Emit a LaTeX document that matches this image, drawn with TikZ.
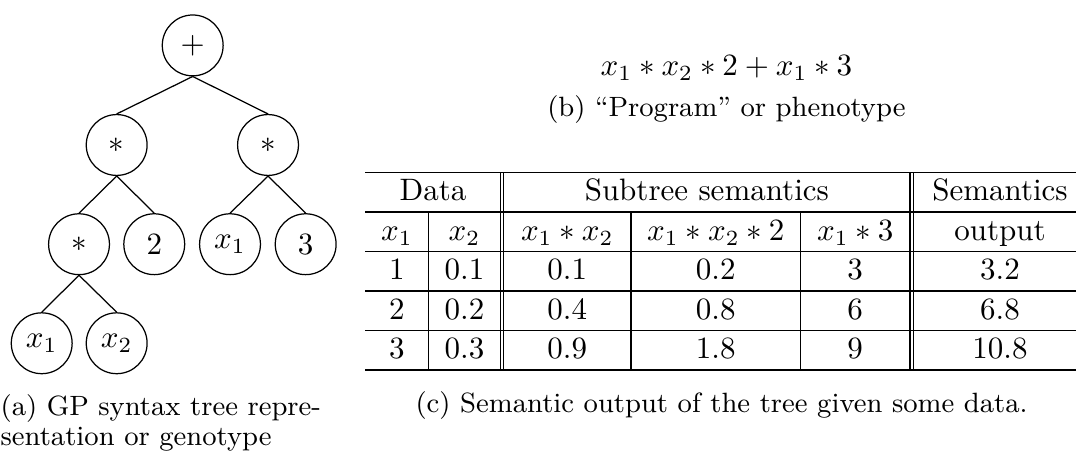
\documentclass[tikz,border=0pt]{standalone}

\begin{document}
\begin{tikzpicture}[
    op/.style={circle, draw, minimum size=0.69cm, inner sep=0pt},
    subcap/.style={font=\small, inner sep=0pt},
    tcell/.style={anchor=base, inner sep=0pt}
  ]
  \useasboundingbox (0,0) rectangle (12.2,5.147);

  % Boom (a)
  \node[op] (plus) at (2.185,4.632) {$+$};
  \node[op] (mulL) at (1.323,3.503) {$*$};
  \node[op] (mulR) at (3.039,3.503) {$*$};
  \node[op] (mulLL) at (0.896,2.378) {$*$};
  \node[op] (two) at (1.749,2.378) {$2$};
  \node[op] (xa) at (2.608,2.378) {$x_1$};
  \node[op] (three) at (3.466,2.378) {$3$};
  \node[op] (xb) at (0.473,1.255) {$x_1$};
  \node[op] (xc) at (1.323,1.255) {$x_2$};

  \draw (plus.south) -- (mulL.north);
  \draw (plus.south) -- (mulR.north);
  \draw (mulL.south) -- (mulLL.north);
  \draw (mulL.south) -- (two.north);
  \draw (mulR.south) -- (xa.north);
  \draw (mulR.south) -- (three.north);
  \draw (mulLL.south) -- (xb.north);
  \draw (mulLL.south) -- (xc.north);

  \node[subcap, anchor=base west, align=left] (capa) at (0,0.095) {(a) GP syntax tree repre-\\[-1.3pt]sentation or genotype};

  % Programma (b)
  \node[anchor=base west, inner sep=0pt] (prog) at (6.803,4.289) {$x_1 * x_2 * 2 + x_1 * 3$};
  \node[subcap, anchor=base] (capb) at ([yshift=-0.46cm]prog.base) {(b) ``Program'' or phenotype};

  % Tabel (c)
  \begin{scope}[shift={(4.144,0.952)}]
    \foreach \y in {0,0.448,0.896,1.344,1.792,2.240}
      \draw (0,\y) -- (8.18,\y);
    \foreach \x in {1.531,1.568,6.173,6.211}
      \draw (\x,0) -- (\x,2.240);
    \foreach \x in {0.714,3.010,4.932}
      \draw (\x,0) -- (\x,1.792);

    \node[tcell] (hdata) at (0.765,1.916) {Data};
    \node[tcell] (hsub) at (3.870,1.916) {Subtree semantics};
    \node[tcell] (hsem) at (7.194,1.916) {Semantics};

    \node[tcell] (hxa) at (0.357,1.469) {$x_1$};
    \node[tcell] (hxb) at (1.122,1.469) {$x_2$};
    \node[tcell] (hsa) at (2.288,1.469) {$x_1 * x_2$};
    \node[tcell] (hsb) at (3.972,1.469) {$x_1 * x_2 * 2$};
    \node[tcell] (hsc) at (5.553,1.469) {$x_1 * 3$};
    \node[tcell] (hout) at (7.194,1.469) {output};

    \foreach \a/\b/\c/\d/\e/\f [count=\r] in {1/0.1/0.1/0.2/3/3.2, 2/0.2/0.4/0.8/6/6.8, 3/0.3/0.9/1.8/9/10.8} {
      \node[tcell] (row\r a) at (0.357,1.469-0.448*\r) {\a};
      \node[tcell] (row\r b) at (1.122,1.469-0.448*\r) {\b};
      \node[tcell] (row\r c) at (2.288,1.469-0.448*\r) {\c};
      \node[tcell] (row\r d) at (3.972,1.469-0.448*\r) {\d};
      \node[tcell] (row\r e) at (5.553,1.469-0.448*\r) {\e};
      \node[tcell] (row\r f) at (7.194,1.469-0.448*\r) {\f};
    }
  \end{scope}

  \node[subcap, anchor=base west] (capc) at (4.705,0.47) {(c) Semantic output of the tree given some data.};
\end{tikzpicture}
\end{document}
